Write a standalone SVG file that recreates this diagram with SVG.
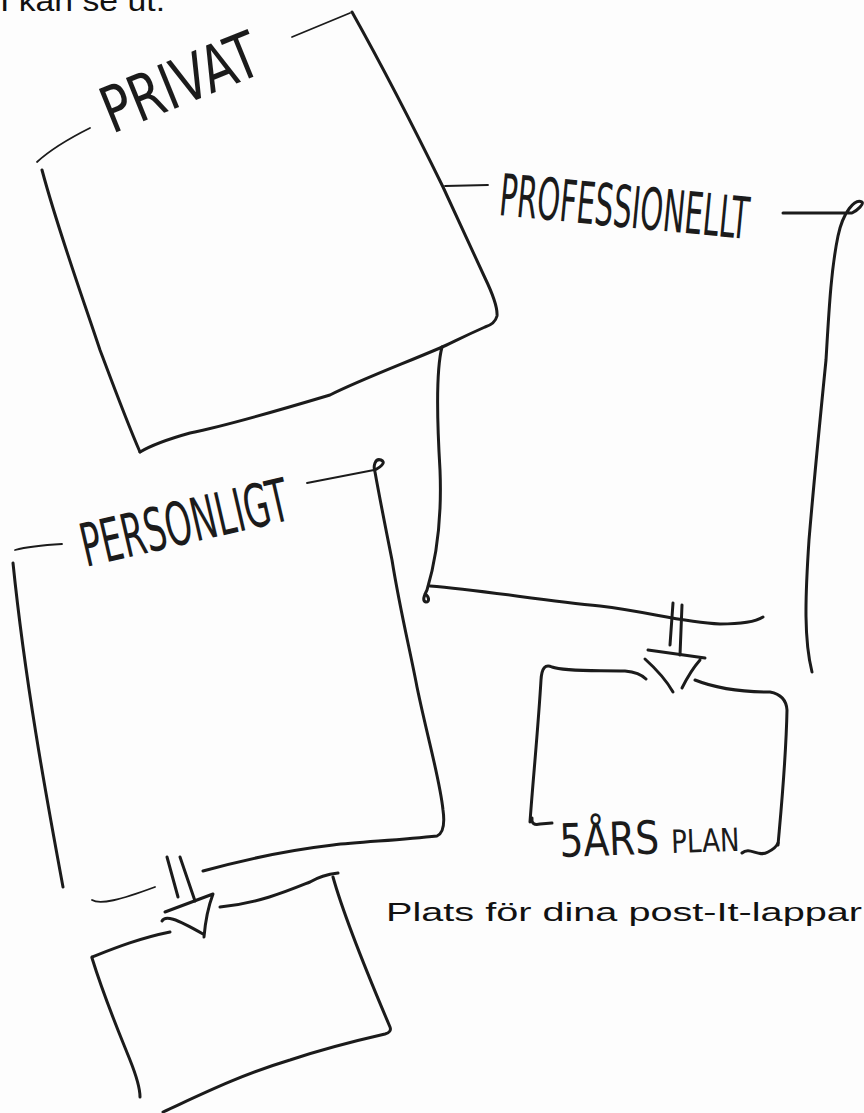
<svg xmlns="http://www.w3.org/2000/svg" width="864" height="1113" viewBox="0 0 864 1113">
<style>
.ln{fill:none;stroke:#1b1b1b;stroke-width:3;stroke-linecap:round;stroke-linejoin:round}
.th{fill:none;stroke:#1b1b1b;stroke-width:1.8;stroke-linecap:round;stroke-linejoin:round}
.hw{font-family:"Liberation Sans Narrow","DejaVu Sans Condensed","Liberation Sans",sans-serif;fill:#1b1b1b}
.tx{font-family:"Liberation Sans","DejaVu Sans",sans-serif;fill:#111}
</style>
<rect width="864" height="1113" fill="#fdfdfd"/>
<text class="tx" x="0" y="11" font-size="30" textLength="165" lengthAdjust="spacingAndGlyphs">I kan se ut.</text>
<g id="privat">
<path class="th" d="M37,162 C50,150 70,138 90,128"/>
<path class="th" d="M292,37 L350,13"/>
<path class="ln" d="M352,12 C390,80 420,140 443,187 C458,220 472,250 485,278 Q498,305 497,316 Q495,324 485,327 C460,338 450,344 440,348 C400,365 360,380 330,395 C280,410 230,425 190,433 C165,440 150,446 140,452"/>
<path class="ln" d="M42,170 C58,230 80,290 100,350 C115,390 128,425 140,452"/>
<text class="hw" transform="translate(112,134) rotate(-22)" font-size="64" textLength="165" lengthAdjust="spacingAndGlyphs">PRIVAT</text>
</g>
<g id="professionellt">
<text class="hw" transform="translate(498,215) rotate(5.5)" font-size="58" textLength="250" lengthAdjust="spacingAndGlyphs">PROFESSIONELLT</text>
<path class="ln" d="M783,213 L852,213 C858,210 864,204 862,202 C855,198 843,212 838,236 C831,270 829,310 826,360 C820,420 814,480 809,540 C805,600 804,640 812,672"/>
</g>
<g id="personligt">
<path class="th" d="M15,550 C30,546 45,545 62,544"/>
<text class="hw" transform="translate(86,567) rotate(-13)" font-size="60" textLength="212" lengthAdjust="spacingAndGlyphs">PERSONLIGT</text>
<path class="th" d="M307,483 L374,470"/>
<path class="ln" d="M375,470 C382,466 386,462 381,460 C375,458 373,466 375,472 C380,500 388,540 392,560 C400,610 410,650 417,687 C428,740 440,780 443,810 Q446,832 437,836 C400,840 360,842 333,845 C290,850 250,858 203,871"/>
<path class="ln" d="M13,563 C25,680 45,790 63,887"/>
</g>
<g id="plan">
<path class="ln" d="M530,822 C533,780 538,730 541,680 Q542,662 552,667 C565,672 600,670 625,671 C635,672 642,675 646,679"/>
<path class="ln" d="M695,680 C720,690 745,692 770,692 Q786,695 787,710 C786,760 782,800 778,845"/>
<path class="ln" d="M532,818 Q531,826 540,824 L552,823"/>
<path class="ln" d="M742,853 C750,846 758,858 768,852 C772,850 776,848 778,843"/>
<text class="hw" transform="translate(560,857) rotate(-2)" font-size="46" textLength="180" lengthAdjust="spacingAndGlyphs">5ÅRS <tspan font-size="32">PLAN</tspan></text>
</g>
<g id="box-bottom">
<path class="ln" d="M92,957 C115,948 140,938 170,932"/>
<path class="ln" d="M220,907 C260,903 290,890 310,882 C320,876 330,874 338,873"/>
<path class="ln" d="M333,877 C345,920 370,980 390,1027 Q392,1032 385,1034 C350,1042 320,1050 290,1060 C240,1075 200,1095 163,1112"/>
<path class="ln" d="M92,958 C105,1000 120,1035 130,1060 C138,1080 140,1092 140,1097"/>
</g>
<g id="connectors">
<path class="th" d="M445,186 L488,185"/>
<path class="ln" d="M442,347 C436,370 437,420 440,470 C442,520 436,560 427,590 C424,596 422,601 426,602 C430,602 429,596 425,594"/>
<path class="ln" d="M430,586 C480,590 540,600 600,606 C650,612 680,622 720,624 C740,624 755,622 763,617"/>
<path class="ln" d="M673,603 L670,645 M682,605 L680,655"/>
<path class="ln" d="M648,650 L705,658 M645,659 C655,668 665,678 673,692 M700,660 C693,668 687,678 682,688"/>
<path class="th" d="M92,900 C100,905 120,900 155,887"/>
<path class="ln" d="M167,857 L178,897 M180,857 L195,901"/>
<path class="ln" d="M165,912 L213,894 C207,910 205,925 204,937 M162,921 C165,915 175,918 203,934"/>
</g>
<text class="tx" x="386" y="921" font-size="26" textLength="476" lengthAdjust="spacingAndGlyphs">Plats för dina post-It-lappar</text>
</svg>
